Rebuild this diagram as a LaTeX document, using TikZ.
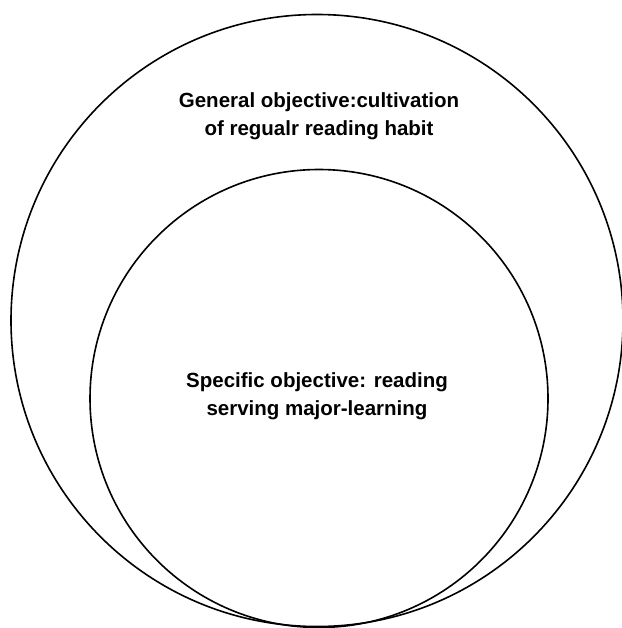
\documentclass[tikz,border=0pt]{standalone}
\usepackage{fontspec}
\setmainfont{Liberation Sans}
\usepackage{tikz}

\tikzset{
  ring/.style={line width=1.6pt},
  goaltext/.style={align=center, font=\fontsize{20.5}{28}\selectfont\bfseries}
}

\begin{document}
\begin{tikzpicture}[x=1pt,y=-1pt]

            \useasboundingbox (0,0) rectangle (621,628); % Page frame

            % General objective circle
            \draw[ring] (317,320.5) circle (306);
            \node[goaltext] (general) at (319,116) {General objective:cultivation\\of regualr reading habit}; % Label general

            % Specific objective circle
            \draw[ring] (319,398.5) circle (229);
            \node[goaltext] (specific) at (317,396) {Specific objective: reading\\serving major-learning}; % Label specific

        \end{tikzpicture}
\end{document}
